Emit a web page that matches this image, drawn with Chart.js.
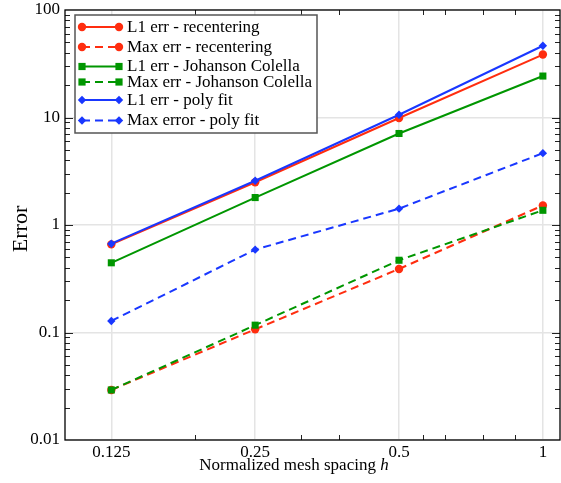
<!DOCTYPE html>
<html>
<head>
<meta charset="utf-8">
<script src="https://cdn.jsdelivr.net/npm/chart.js@4.4.1/dist/chart.umd.min.js"></script>
<style>
  html, body { margin: 0; padding: 0; background: #fff; }
</style>
</head>
<body>
<canvas id="myChart" width="561" height="483"></canvas>
<script>
// data (log-log plot)
var spacing = [0.125, 0.25, 0.5, 1];
var l1Recenter = [0.66, 2.5, 9.9, 38.5];
var maxRecenter = [0.0292, 0.107, 0.39, 1.52];
var l1Johanson = [0.445, 1.8, 7.1, 24.3];
var maxJohanson = [0.0292, 0.117, 0.47, 1.37];
var l1Poly = [0.67, 2.58, 10.6, 46.5];
var maxPoly = [0.128, 0.59, 1.42, 4.66];

var seriesNames = ['L1 err - recentering', 'Max err - recentering',
    'L1 err - Johanson Colella', 'Max err - Johanson Colella',
    'L1 err - poly fit', 'Max error - poly fit'];

var xTickLabels = ['0.125', '0.25', '0.5', '1'];
var yTicks = [0.01, 0.1, 1, 10, 100];
var yTickLabels = ['0.01', '0.1', '1', '10', '100'];
var xMinor = [0.1875, 0.3125, 0.375, 0.5625, 0.625, 0.75, 0.875];

var RED = 'rgb(255, 45, 15)';
var GREEN = 'rgb(0, 150, 0)';
var BLUE = 'rgb(25, 55, 255)';
var SERIF = '"Liberation Serif", "DejaVu Serif", serif';

function series(i, data, color, shape, dashed, order) {
    return {
        label: seriesNames[i],
        data: data,
        borderColor: color,
        backgroundColor: color,
        borderWidth: 2,
        borderDash: dashed ? [8, 5] : [],
        pointStyle: shape,
        pointRadius: shape === 'rect' ? 5 : 4.2,
        pointBorderWidth: 0,
        pointBackgroundColor: color,
        tension: 0,
        fill: false,
        order: order
    };
}

function noPad(s) {
    s.paddingLeft = 0; s.paddingRight = 0;
    s.paddingTop = 0; s.paddingBottom = 0;
}

// frame, inward tick marks, axis titles, legend
var decorations = {
    id: 'decorations',
    afterDraw: function (chart) {
        var ctx = chart.ctx;
        var a = chart.chartArea;
        var xs = chart.scales.x, ys = chart.scales.y;
        ctx.save();

        // minor / major ticks on all four sides
        ctx.strokeStyle = '#222';
        ctx.lineWidth = 1;
        ctx.beginPath();
        xMinor.forEach(function (v) {
            var px = Math.round(xs.getPixelForValue(v)) + 0.5;
            ctx.moveTo(px, a.bottom); ctx.lineTo(px, a.bottom - 5);
            ctx.moveTo(px, a.top); ctx.lineTo(px, a.top + 5);
        });
        for (var d = 0; d < 4; d++) {
            var base = yTicks[d];
            for (var k = 1; k <= 9; k++) {
                if (k === 1 && d === 0) continue;
                var py = Math.round(ys.getPixelForValue(base * k)) + 0.5;
                var len = k === 1 ? 8 : 5;
                ctx.moveTo(a.left, py); ctx.lineTo(a.left + len, py);
                ctx.moveTo(a.right, py); ctx.lineTo(a.right - len, py);
            }
        }
        ctx.stroke();

        // frame
        ctx.lineWidth = 1.3;
        ctx.strokeStyle = '#000';
        ctx.strokeRect(a.left, a.top, a.right - a.left, a.bottom - a.top);

        // x title with italic h
        ctx.fillStyle = '#000';
        ctx.textBaseline = 'alphabetic';
        ctx.textAlign = 'left';
        var t1 = 'Normalized mesh spacing ';
        ctx.font = '17px ' + SERIF;
        var w1 = ctx.measureText(t1).width;
        ctx.font = 'italic 17px ' + SERIF;
        var w2 = ctx.measureText('h').width;
        var sx = 294 - (w1 + w2) / 2;
        ctx.font = '17px ' + SERIF;
        ctx.fillText(t1, sx, 470);
        ctx.font = 'italic 17px ' + SERIF;
        ctx.fillText('h', sx + w1, 470);

        // y title
        ctx.save();
        ctx.translate(27, 229);
        ctx.rotate(-Math.PI / 2);
        ctx.textAlign = 'center';
        ctx.font = '22px ' + SERIF;
        ctx.fillText('Error', 0, 0);
        ctx.restore();

        // legend box
        var bx = 75, by = 15, bw = 242, bh = 118;
        ctx.fillStyle = '#fff';
        ctx.fillRect(bx, by, bw, bh);
        ctx.strokeStyle = '#555';
        ctx.lineWidth = 1.5;
        ctx.strokeRect(bx, by, bw, bh);
        var rows = [27, 47, 66.5, 82, 100, 120.5];
        chart.data.datasets.forEach(function (ds, i) {
            var y = rows[i];
            ctx.strokeStyle = ds.borderColor;
            ctx.fillStyle = ds.borderColor;
            ctx.lineWidth = 2;
            ctx.setLineDash(ds.borderDash);
            ctx.beginPath();
            ctx.moveTo(82, y); ctx.lineTo(119, y);
            ctx.stroke();
            ctx.setLineDash([]);
            [82, 119].forEach(function (mx) {
                ctx.beginPath();
                if (ds.pointStyle === 'circle') {
                    ctx.arc(mx, y, 4.2, 0, Math.PI * 2);
                } else if (ds.pointStyle === 'rect') {
                    ctx.rect(mx - 3.6, y - 3.6, 7.2, 7.2);
                } else {
                    ctx.moveTo(mx, y - 4.2); ctx.lineTo(mx + 4.2, y);
                    ctx.lineTo(mx, y + 4.2); ctx.lineTo(mx - 4.2, y);
                    ctx.closePath();
                }
                ctx.fill();
            });
            ctx.fillStyle = '#000';
            ctx.font = '17px ' + SERIF;
            ctx.textBaseline = 'middle';
            ctx.textAlign = 'left';
            ctx.fillText(ds.label, 127, y + 0.5);
        });
        ctx.restore();
    }
};

var ctx = document.getElementById('myChart').getContext('2d');
var chart = new Chart(ctx, {
    type: 'line',
    data: {
        labels: spacing,
        datasets: [
            series(0, l1Recenter, RED, 'circle', false, 6),
            series(1, maxRecenter, RED, 'circle', true, 5),
            series(2, l1Johanson, GREEN, 'rect', false, 4),
            series(3, maxJohanson, GREEN, 'rect', true, 3),
            series(4, l1Poly, BLUE, 'rectRot', false, 2),
            series(5, maxPoly, BLUE, 'rectRot', true, 1)
        ]
    },
    options: {
        responsive: false,
        animation: false,
        devicePixelRatio: 1,
        layout: { autoPadding: false, padding: { top: 10, right: 1, left: 0, bottom: 0 } },
        plugins: {
            legend: { display: false },
            tooltip: { enabled: false }
        },
        scales: {
            x: {
                type: 'logarithmic',
                min: 0.1,
                max: 1.086,
                afterBuildTicks: function (s) {
                    s.ticks = spacing.map(function (v) { return { value: v }; });
                },
                afterFit: function (s) { s.height = 43; noPad(s); },
                ticks: {
                    autoSkip: false,
                    maxRotation: 0,
                    padding: 2,
                    color: '#000',
                    font: { family: SERIF, size: 17 },
                    callback: function (v, i) { return xTickLabels[i]; }
                },
                grid: { color: '#e4e4e4', lineWidth: 1.5, drawTicks: false },
                border: { display: false }
            },
            y: {
                type: 'logarithmic',
                min: 0.01,
                max: 100,
                afterBuildTicks: function (s) {
                    s.ticks = yTicks.map(function (v) { return { value: v }; });
                },
                afterFit: function (s) { s.width = 65; noPad(s); },
                ticks: {
                    padding: 5,
                    color: '#000',
                    font: { family: SERIF, size: 17 },
                    callback: function (v, i) { return yTickLabels[i]; }
                },
                grid: { color: '#e4e4e4', lineWidth: 1.5, drawTicks: false },
                border: { display: false }
            }
        }
    },
    plugins: [decorations]
});
</script>
</body>
</html>
